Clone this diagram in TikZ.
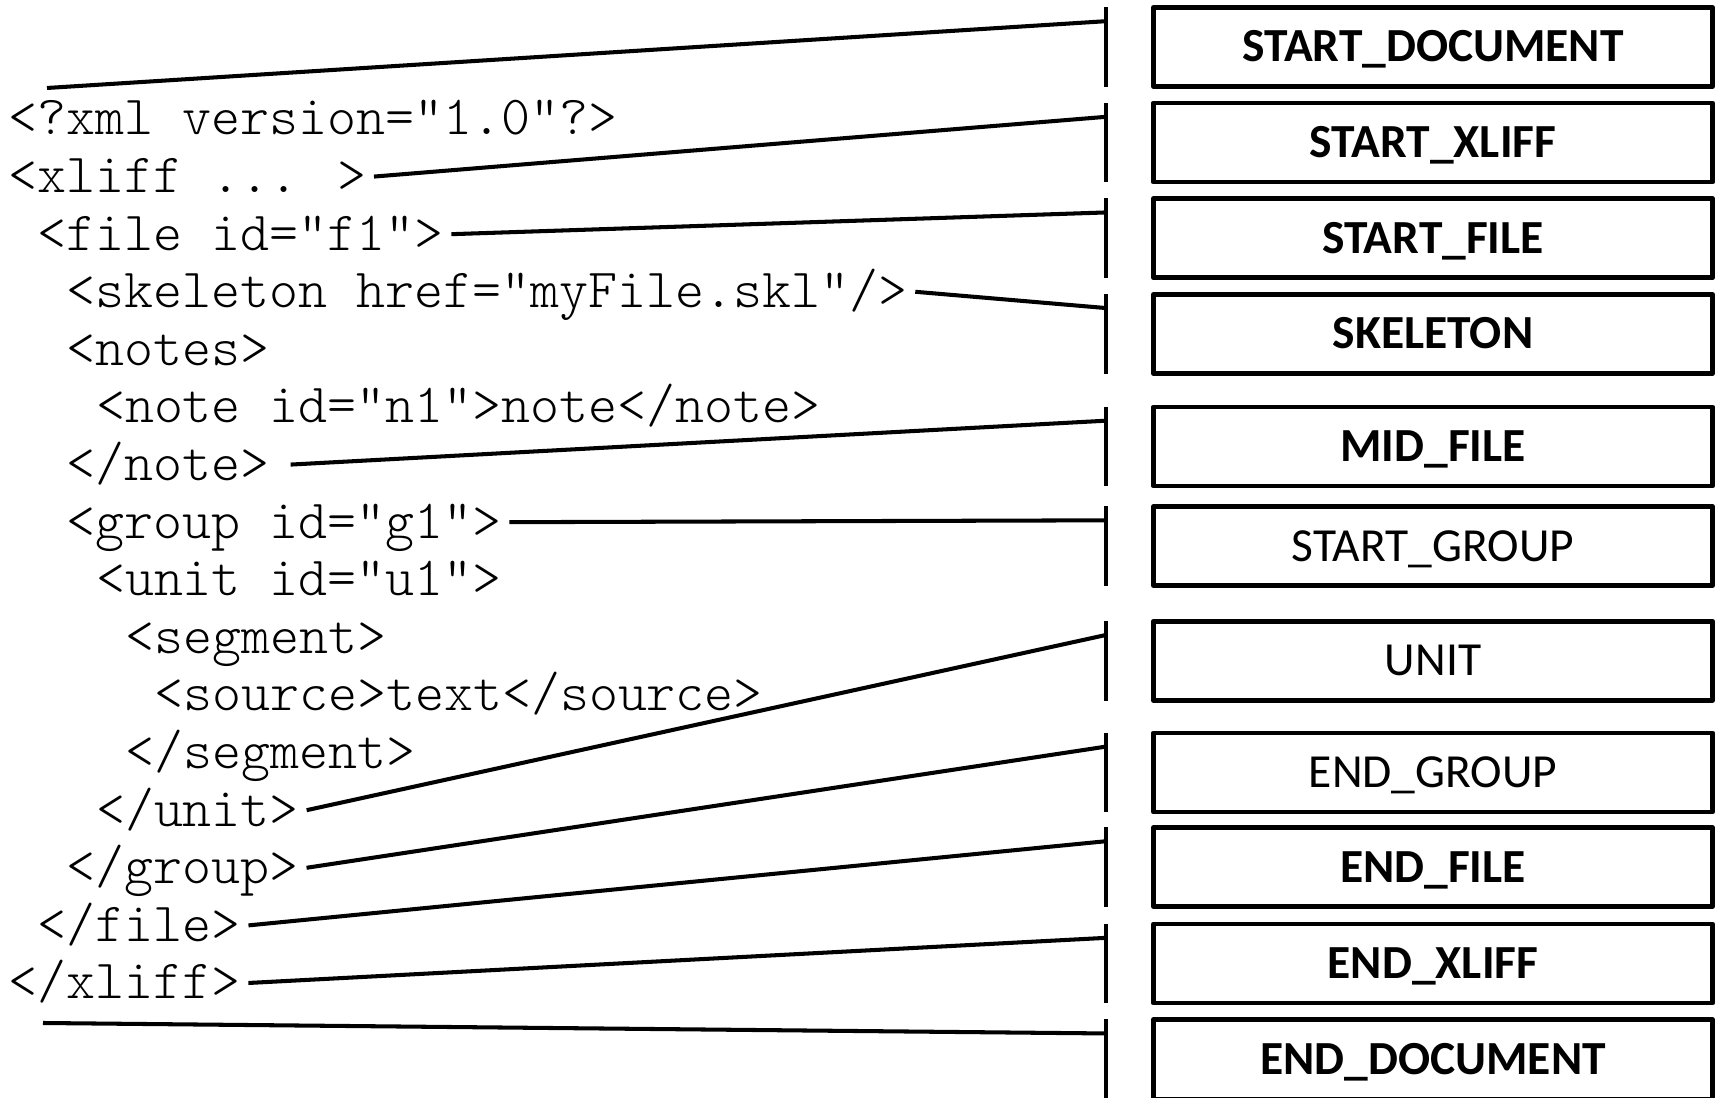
\documentclass[tikz,border=0pt]{standalone}
\usepackage{fontspec}
\newfontfamily\xmlfont{Latin Modern Mono Light}
\setsansfont{Carlito}
\usetikzlibrary{positioning}

\begin{document}
\begin{tikzpicture}[x=0.01cm, y=-0.01cm,
        node distance = 0.12cm,
        code/.style = {font=\xmlfont\fontsize{15.7}{18}\selectfont,
            anchor=base west, inner xsep=2pt, inner ysep=0pt,
            text height=0.32cm, text depth=0pt},
        event/.style = {draw, line width=1.3pt, line join=round,
            minimum width=5.59cm, minimum height=0.79cm, inner sep=0pt,
            text height=0.3cm, text depth=0pt,
            font=\sffamily\fontsize{13.5}{16}\selectfont},
        key/.style = {event, font=\sffamily\bfseries\fontsize{13.5}{16}\selectfont},
        bar/.style = {line width=1.3pt},
        link/.style = {line width=1.15pt}]
        \useasboundingbox (0,0) rectangle (1718,1098);
        % the XML input
        \node[code] (x0) at (1,135) {<?xml version="1.0"?>};
        \node[code] (x1) at (1,192.6) {<xliff ... >};
        \node[code] (x2) at (30.1,250.2) {<file id="f1">};
        \node[code] (x3) at (59.2,307.8) {<skeleton href="myFile.skl"/>};
        \node[code] (x4) at (59.2,365.4) {<notes>};
        \node[code] (x5) at (88.3,423) {<note id="n1">note</note>};
        \node[code] (x6) at (59.2,480.6) {</note>};
        \node[code] (x7) at (59.2,538.2) {<group id="g1">};
        \node[code] (x8) at (88.3,595.8) {<unit id="u1">};
        \node[code] (x9) at (117.4,653.4) {<segment>};
        \node[code] (x10) at (146.5,711) {<source>text</source>};
        \node[code] (x11) at (117.4,768.6) {</segment>};
        \node[code] (x12) at (88.3,826.2) {</unit>};
        \node[code] (x13) at (59.2,883.8) {</group>};
        \node[code] (x14) at (30.1,941.4) {</file>};
        \node[code] (x15) at (1,999) {</xliff>};
        \coordinate (head) at (47,88);
        \coordinate (tail) at (43,1023);
        % the events
        \node[key] (b1) at (1433,47) {START\_DOCUMENT};
        \node[key, below=0.12cm of b1] (b2) {START\_XLIFF};
        \node[key, below=0.12cm of b2] (b3) {START\_FILE};
        \node[key, below=0.12cm of b3] (b4) {SKELETON};
        \node[key, below=0.29cm of b4] (b5) {MID\_FILE};
        \node[event, below=0.16cm of b5] (b6) {START\_GROUP};
        \node[event, below=0.31cm of b6] (b7) {UNIT};
        \node[event, below=0.28cm of b7] (b8) {END\_GROUP};
        \node[key, below=0.11cm of b8] (b9) {END\_FILE};
        \node[key, below=0.13cm of b9] (b10) {END\_XLIFF};
        \node[key, below=0.12cm of b10] (b11) {END\_DOCUMENT};
        \draw[bar]
            ([xshift=-0.45cm,yshift=-0.02cm]b1.north west) -- ([xshift=-0.45cm,yshift=0.02cm]b1.south west)
            ([xshift=-0.45cm,yshift=-0.02cm]b2.north west) -- ([xshift=-0.45cm,yshift=0.02cm]b2.south west)
            ([xshift=-0.45cm,yshift=-0.02cm]b3.north west) -- ([xshift=-0.45cm,yshift=0.02cm]b3.south west)
            ([xshift=-0.45cm,yshift=-0.02cm]b4.north west) -- ([xshift=-0.45cm,yshift=0.02cm]b4.south west)
            ([xshift=-0.45cm,yshift=-0.02cm]b5.north west) -- ([xshift=-0.45cm,yshift=0.02cm]b5.south west)
            ([xshift=-0.45cm,yshift=-0.02cm]b6.north west) -- ([xshift=-0.45cm,yshift=0.02cm]b6.south west)
            ([xshift=-0.45cm,yshift=-0.02cm]b7.north west) -- ([xshift=-0.45cm,yshift=0.02cm]b7.south west)
            ([xshift=-0.45cm,yshift=-0.02cm]b8.north west) -- ([xshift=-0.45cm,yshift=0.02cm]b8.south west)
            ([xshift=-0.45cm,yshift=-0.02cm]b9.north west) -- ([xshift=-0.45cm,yshift=0.02cm]b9.south west)
            ([xshift=-0.45cm,yshift=-0.02cm]b10.north west) -- ([xshift=-0.45cm,yshift=0.02cm]b10.south west)
            ([xshift=-0.45cm,yshift=-0.02cm]b11.north west) -- ([xshift=-0.45cm,yshift=0.02cm]b11.south west);
        \path[link]
            (head) edge ([xshift=-0.45cm,yshift=-0.16cm]b1.north west)
            (x1.east) edge ([xshift=-0.45cm,yshift=-0.16cm]b2.north west)
            (x2.east) edge ([xshift=-0.45cm,yshift=-0.16cm]b3.north west)
            (x3.east) edge ([xshift=-0.45cm,yshift=-0.16cm]b4.north west)
            ([xshift=0.13cm]x6.east) edge ([xshift=-0.45cm,yshift=-0.16cm]b5.north west)
            (x7.east) edge ([xshift=-0.45cm,yshift=-0.16cm]b6.north west)
            (x12.east) edge ([xshift=-0.45cm,yshift=-0.16cm]b7.north west)
            (x13.east) edge ([xshift=-0.45cm,yshift=-0.16cm]b8.north west)
            (x14.east) edge ([xshift=-0.45cm,yshift=-0.16cm]b9.north west)
            (x15.east) edge ([xshift=-0.45cm,yshift=-0.16cm]b10.north west)
            (tail) edge ([xshift=-0.45cm,yshift=-0.16cm]b11.north west);
\end{tikzpicture}
\end{document}
